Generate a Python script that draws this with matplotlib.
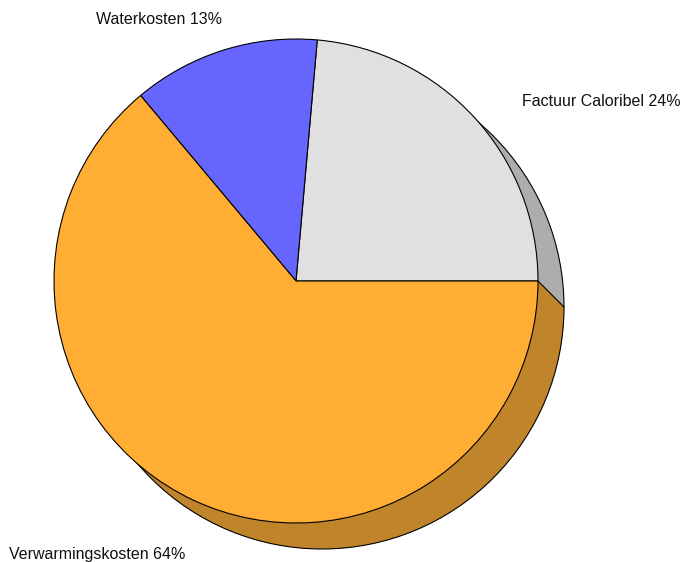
import matplotlib.pyplot as plt
from matplotlib.patches import Polygon, Circle

# slice shares and label texts
labels = ["Factuur Caloribel 24%", "Waterkosten 13%", "Verwarmingskosten 64%"]
values = [23.6, 12.5, 63.9]
colors = ["#e0e0e0", "#6666ff", "#ffae33"]
shadow_colors = ["#adadad", "#3d3d99", "#c0842a"]

fig = plt.figure(figsize=(6.83, 5.62), dpi=100)
ax = fig.add_axes([0, 0, 1, 1])

cx, cy, r = 296, 281, 242
off = 26

# shadow: wedges without seams, one outline round it
ax.pie(values, colors=shadow_colors, center=(cx + off, cy - off), radius=r,
       startangle=0, counterclock=True, frame=True,
       wedgeprops=dict(edgecolor="none", linewidth=0))

outline = Circle((cx + off, cy - off), r, facecolor="none", edgecolor="black",
                 lw=0.8, zorder=2.5)
ax.add_patch(outline)

# side face: diagonal seam between grey and orange shadow
tri = Polygon([(cx + r, cy), (cx + r + off, cy - off), (cx + r + off + 2, cy - off - 20),
               (cx + r - 10, cy - off - 20), (cx + r - 10, cy)], closed=True,
              facecolor=shadow_colors[2], edgecolor="none", zorder=2)
ax.add_patch(tri)
tri.set_clip_path(Circle((cx + off, cy - off), r, transform=ax.transData))
ax.plot([cx + r, cx + r + off], [cy, cy - off], color="black", lw=0.8, zorder=2.5)

ax.pie(values, colors=colors, center=(cx, cy), radius=r,
       startangle=0, counterclock=True, frame=True,
       wedgeprops=dict(edgecolor="black", linewidth=0.8, zorder=3))

ax.set_xlim(0, 683)
ax.set_ylim(0, 562)
ax.set_aspect("equal")
ax.axis("off")

lab_pos = [(522, 461), (96, 542), (9, 8)]
for txt, (x, y) in zip(labels, lab_pos):
    ax.text(x, y, txt, ha="left", va="center", fontsize=11.5,
            family="Liberation Sans", color="#111111")

fig.savefig("out.png", dpi=100)
